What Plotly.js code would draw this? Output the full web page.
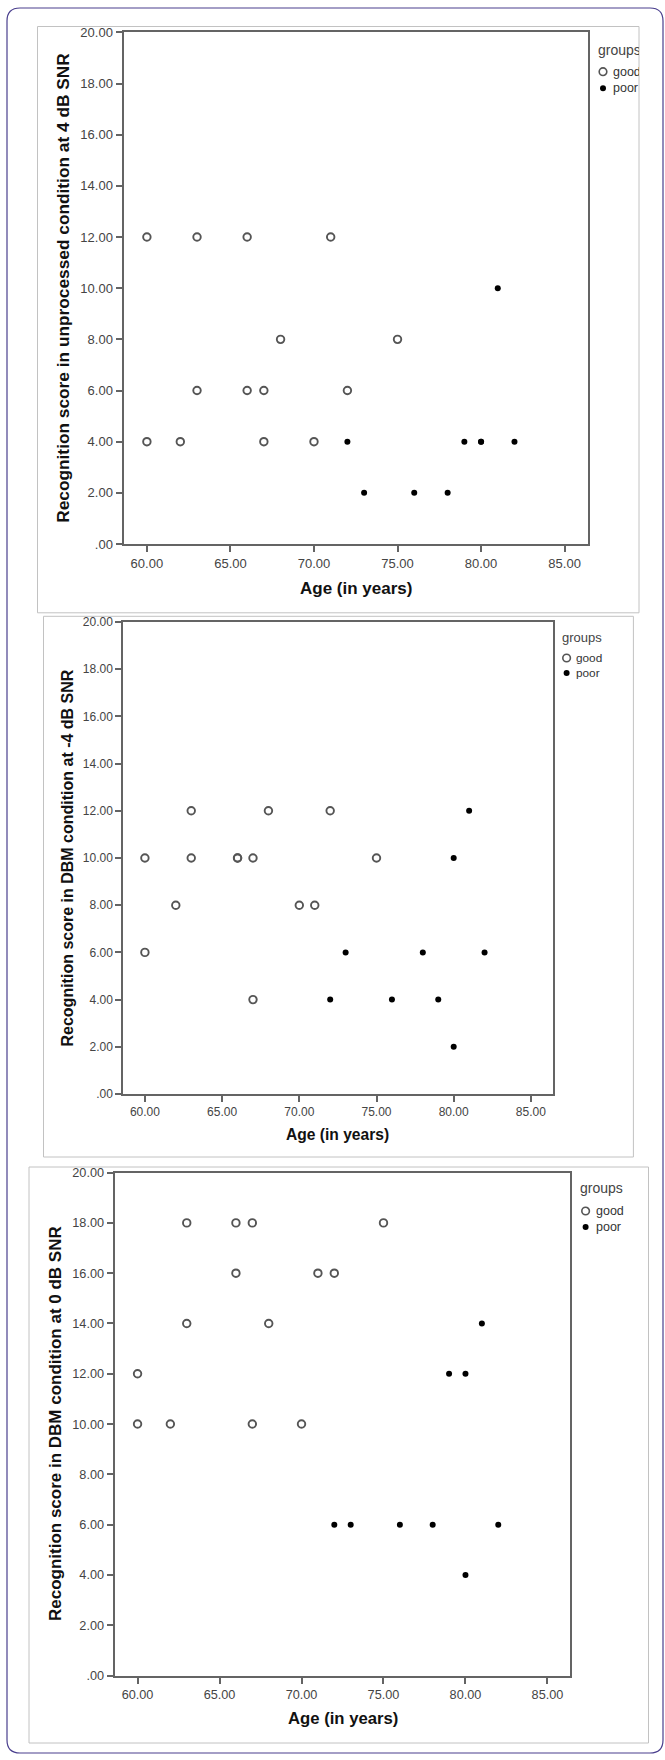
<!DOCTYPE html>
<html>
<head>
<meta charset="utf-8">
<script src="https://cdn.plot.ly/plotly-3.0.1.min.js"></script>
<style>
html,body{margin:0;padding:0;background:#ffffff;}
#chart{width:665px;height:1760px;}
</style>
</head>
<body>
<div id="chart"></div>
<script>
// ---------------- DATA ----------------
// Panel 1: unprocessed condition at 4 dB SNR
const p1GoodAge   = [60, 60, 62, 63, 63, 66, 66, 67, 67, 68, 70, 71, 72, 75];
const p1GoodScore = [12,  4,  4, 12,  6, 12,  6,  6,  4,  8,  4, 12,  6,  8];
const p1PoorAge   = [72, 73, 76, 78, 79, 80, 80, 81, 82];
const p1PoorScore = [ 4,  2,  2,  2,  4,  4,  4, 10,  4];

// Panel 2: DBM condition at -4 dB SNR
const p2GoodAge   = [60, 60, 62, 63, 63, 66, 66, 67, 67, 68, 70, 71, 72, 75];
const p2GoodScore = [10,  6,  8, 12, 10, 10, 10, 10,  4, 12,  8,  8, 12, 10];
const p2PoorAge   = [72, 73, 76, 78, 79, 80, 80, 81, 82];
const p2PoorScore = [ 4,  6,  4,  6,  4, 10,  2, 12,  6];

// Panel 3: DBM condition at 0 dB SNR
const p3GoodAge   = [60, 60, 62, 63, 63, 66, 66, 67, 67, 68, 70, 71, 72, 75];
const p3GoodScore = [12, 10, 10, 18, 14, 18, 16, 18, 10, 14, 10, 16, 16, 18];
const p3PoorAge   = [72, 73, 76, 78, 79, 80, 80, 81, 82];
const p3PoorScore = [ 6,  6,  6,  6, 12, 12,  4, 14,  6];

const xTickVals = [60, 65, 70, 75, 80, 85];
const xTickText = ["60.00", "65.00", "70.00", "75.00", "80.00", "85.00"];
const yTickVals = [0, 2, 4, 6, 8, 10, 12, 14, 16, 18, 20];
const yTickText = [".00", "2.00", "4.00", "6.00", "8.00", "10.00", "12.00", "14.00", "16.00", "18.00", "20.00"];

const groupNames  = ["good", "poor"];
const legendTitle = "groups";
const xTitle      = "Age (in years)";
const yTitles = [
  "Recognition score in unprocessed condition at 4 dB SNR",
  "Recognition score in DBM condition at -4 dB SNR",
  "Recognition score in DBM condition at 0 dB SNR"
];

// ---------------- LAYOUT HELPERS ----------------
const W = 665, H = 1760;
const FONT = '"Liberation Sans", Arial, Helvetica, sans-serif';
const px = x => x / W;
const py = y => 1 - y / H;

const panelData = [
  {good: [p1GoodAge, p1GoodScore], poor: [p1PoorAge, p1PoorScore]},
  {good: [p2GoodAge, p2GoodScore], poor: [p2PoorAge, p2PoorScore]},
  {good: [p3GoodAge, p3GoodScore], poor: [p3PoorAge, p3PoorScore]}
];

const panelStyle = [
  {plot: [123.5, 32.4, 588, 544],   frame: [37.5, 26.5, 639, 612.8],
   tick: 13,  ytitle: 17.3, xtitle: 17, ytX: 63.6, xtY: 588,
   leg: {gx: 597, gy: 50, mx: 603, tx: 612, y1: 71.7, y2: 88.3, gs: 14, is: 12.5}},
  {plot: [123.3, 622, 552.5, 1094], frame: [43.5, 616.3, 633.4, 1157],
   tick: 12,  ytitle: 16,   xtitle: 15.6, ytX: 66.5, xtY: 1134,
   leg: {gx: 561.4, gy: 637, mx: 566.6, tx: 575, y1: 658, y2: 673, gs: 13, is: 11.8}},
  {plot: [114.6, 1172.6, 570.4, 1675.5], frame: [29, 1167, 648.5, 1743],
   tick: 12.7, ytitle: 17, xtitle: 16.7, ytX: 55, xtY: 1718.7,
   leg: {gx: 579.4, gy: 1188, mx: 585.6, tx: 594.5, y1: 1211, y2: 1227, gs: 14, is: 12.5}}
];

const AXC = '#646464';
const TXC = '#444444';

const traces = [];
const layout = {
  width: W, height: H,
  margin: {l: 0, r: 0, t: 0, b: 0, pad: 0},
  paper_bgcolor: '#ffffff', plot_bgcolor: '#ffffff',
  showlegend: false,
  font: {family: FONT, color: TXC},
  annotations: [], shapes: []
};

// outer rounded page border
(function () {
  const L = 7, T = 8, R = 663, B = 1753, r = 13;
  const path = [
    'M', px(L + r), py(T),
    'L', px(R - r), py(T),
    'Q', px(R), py(T), px(R), py(T + r),
    'L', px(R), py(B - r),
    'Q', px(R), py(B), px(R - r), py(B),
    'L', px(L + r), py(B),
    'Q', px(L), py(B), px(L), py(B - r),
    'L', px(L), py(T + r),
    'Q', px(L), py(T), px(L + r), py(T), 'Z'
  ].join(' ');
  layout.shapes.push({type: 'path', xref: 'paper', yref: 'paper', path: path,
    line: {color: '#4a3f8e', width: 1.2}, layer: 'below'});
})();

panelStyle.forEach((s, i) => {
  const sfx = i === 0 ? '' : String(i + 1);
  const xa = 'x' + sfx, ya = 'y' + sfx;
  const d = panelData[i];

  traces.push({
    type: 'scatter', mode: 'markers', name: groupNames[0],
    x: d.good[0], y: d.good[1], xaxis: xa, yaxis: ya,
    marker: {symbol: 'circle-open', size: 7.5, color: '#555555', line: {width: 1.9, color: '#555555'}},
    hoverinfo: 'x+y'
  });
  traces.push({
    type: 'scatter', mode: 'markers', name: groupNames[1],
    x: d.poor[0], y: d.poor[1], xaxis: xa, yaxis: ya,
    marker: {symbol: 'circle', size: 6, color: '#000000', line: {width: 0}},
    hoverinfo: 'x+y'
  });

  const common = {
    showgrid: false, zeroline: false, showline: true, mirror: true,
    linecolor: AXC, linewidth: 2, ticks: 'outside', ticklen: 6, tickwidth: 2, tickcolor: AXC,
    tickfont: {family: FONT, size: s.tick, color: TXC}, fixedrange: true
  };
  layout['xaxis' + sfx] = Object.assign({}, common, {
    domain: [px(s.plot[0]), px(s.plot[2])], anchor: ya,
    range: [58.6, 86.4], tickmode: 'array', tickvals: xTickVals, ticktext: xTickText
  });
  layout['yaxis' + sfx] = Object.assign({}, common, {
    domain: [py(s.plot[3]), py(s.plot[1])], anchor: xa,
    range: [0, 20], tickmode: 'array', tickvals: yTickVals, ticktext: yTickText
  });

  // panel frame
  layout.shapes.push({type: 'rect', xref: 'paper', yref: 'paper',
    x0: px(s.frame[0]), x1: px(s.frame[2]), y0: py(s.frame[3]), y1: py(s.frame[1]),
    line: {color: '#c2c2c2', width: 1}, layer: 'below'});

  // axis titles
  layout.annotations.push({
    xref: 'paper', yref: 'paper', x: px(s.ytX), y: py((s.plot[1] + s.plot[3]) / 2),
    xanchor: 'center', yanchor: 'middle', textangle: -90, showarrow: false,
    text: '<b>' + yTitles[i] + '</b>', font: {family: FONT, size: s.ytitle, color: '#111111'}
  });
  layout.annotations.push({
    xref: 'paper', yref: 'paper', x: px((s.plot[0] + s.plot[2]) / 2), y: py(s.xtY),
    xanchor: 'center', yanchor: 'middle', showarrow: false,
    text: '<b>' + xTitle + '</b>', font: {family: FONT, size: s.xtitle, color: '#111111'}
  });

  // legend (text clipped at the frame edge)
  const lg = s.leg;
  const clipW = (x) => Math.max(10, s.frame[2] - x - 1);
  layout.annotations.push({
    xref: 'paper', yref: 'paper', x: px(lg.gx), y: py(lg.gy), xanchor: 'left', yanchor: 'middle',
    showarrow: false, text: legendTitle, width: clipW(lg.gx), align: 'left', borderpad: 0,
    font: {family: FONT, size: lg.gs, color: TXC}
  });
  [lg.y1, lg.y2].forEach((yy, k) => {
    layout.annotations.push({
      xref: 'paper', yref: 'paper', x: px(lg.tx), y: py(yy), xanchor: 'left', yanchor: 'middle',
      showarrow: false, text: groupNames[k], width: clipW(lg.tx), align: 'left', borderpad: 0,
      font: {family: FONT, size: lg.is, color: '#333333'}
    });
  });
  layout.shapes.push({type: 'circle', xref: 'paper', yref: 'paper',
    xsizemode: 'pixel', ysizemode: 'pixel', xanchor: px(lg.mx), yanchor: py(lg.y1),
    x0: -3.8, x1: 3.8, y0: -3.8, y1: 3.8, line: {color: '#555555', width: 1.6}});
  layout.shapes.push({type: 'circle', xref: 'paper', yref: 'paper',
    xsizemode: 'pixel', ysizemode: 'pixel', xanchor: px(lg.mx), yanchor: py(lg.y2),
    x0: -3, x1: 3, y0: -3, y1: 3, fillcolor: '#000000', line: {color: '#000000', width: 0}});
});

Plotly.newPlot('chart', traces, layout, {displayModeBar: false, staticPlot: true});
</script>
</body>
</html>
